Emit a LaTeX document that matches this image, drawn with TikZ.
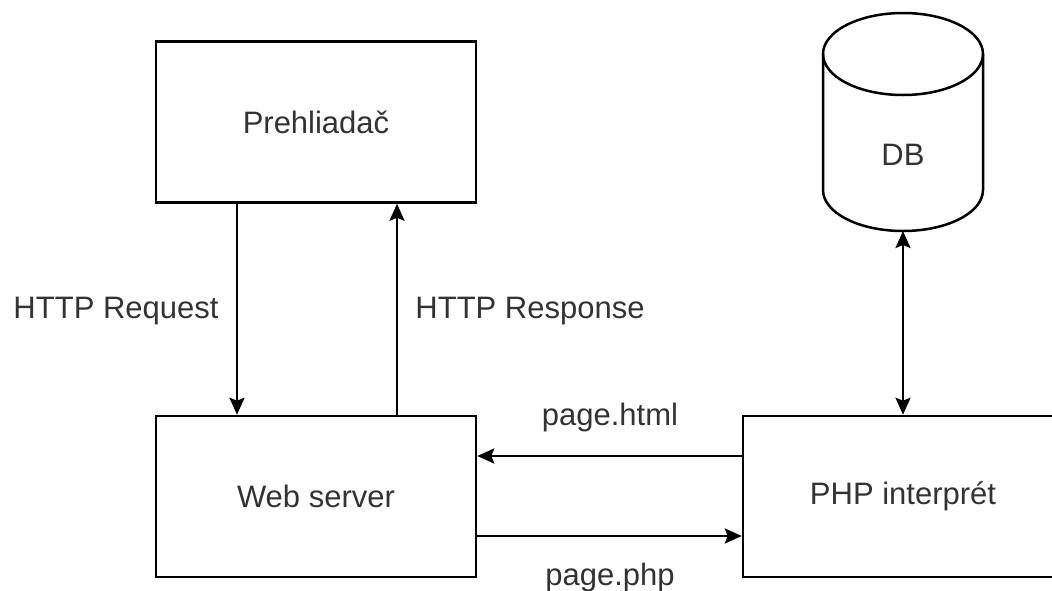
\documentclass[tikz,border=0pt]{standalone}
\usepackage{fontspec}
\setmainfont{Liberation Sans}
\usetikzlibrary{arrows.meta}
\definecolor{txt}{HTML}{333333}
\tikzset{
  x=1pt, y=-1pt,
  box/.style={draw, line width=2.5pt, minimum width=320pt, minimum height=161pt, inner sep=0pt, font=\fontsize{31}{37}\selectfont, text=txt},
  lbl/.style={anchor=base, inner sep=0pt, font=\fontsize{31}{37}\selectfont, text=txt},
  conn/.style={line width=2.5pt, -{Stealth[length=17pt,width=15pt,inset=3pt]}},
  bconn/.style={line width=2.5pt, {Stealth[length=17pt,width=15pt,inset=3pt]}-{Stealth[length=17pt,width=15pt,inset=3pt]}},
}
\begin{document}
\begin{tikzpicture}
\useasboundingbox (0,0) rectangle (1052,590);
\clip (0,0) rectangle (1052,590);
\fill[white] (0,0) rectangle (1052,590);
% boxes
\node[box] (pre) at (316,122) {Prehliadač};
\node[box] (web) at (316,496.5) {Web server};
\node[box] (php) at (903,496.5) {PHP interprét};
% database cylinder
\draw[line width=2.5pt, fill=white] (823,54) -- (823,190) arc[start angle=180, end angle=360, x radius=80, y radius=-41] -- (983,54);
\draw[line width=2.5pt] (903,54) ellipse[x radius=80, y radius=41];
\node[inner sep=0pt, font=\fontsize{31}{37}\selectfont, text=txt] (db) at (903,155) {DB};
\coordinate (dbb) at (903,231);
% connectors
\draw[conn] ([xshift=-79pt]pre.south) -- ([xshift=-79pt]web.north);
\draw[conn] ([xshift=81pt]web.north) -- ([xshift=81pt]pre.south);
\draw[conn] ([yshift=40.5pt]php.west) -- ([yshift=40.5pt]web.east);
\draw[conn] ([yshift=-39.5pt]web.east) -- ([yshift=-39.5pt]php.west);
\draw[bconn] (dbb) -- (php.north);
% labels
\node[lbl] (lreq) at (116,318) {HTTP Request};
\node[lbl] (lresp) at (530,318) {HTTP Response};
\node[lbl] (lhtml) at (610,425) {page.html};
\node[lbl] (lphp) at (610,585) {page.php};
\end{tikzpicture}
\end{document}
